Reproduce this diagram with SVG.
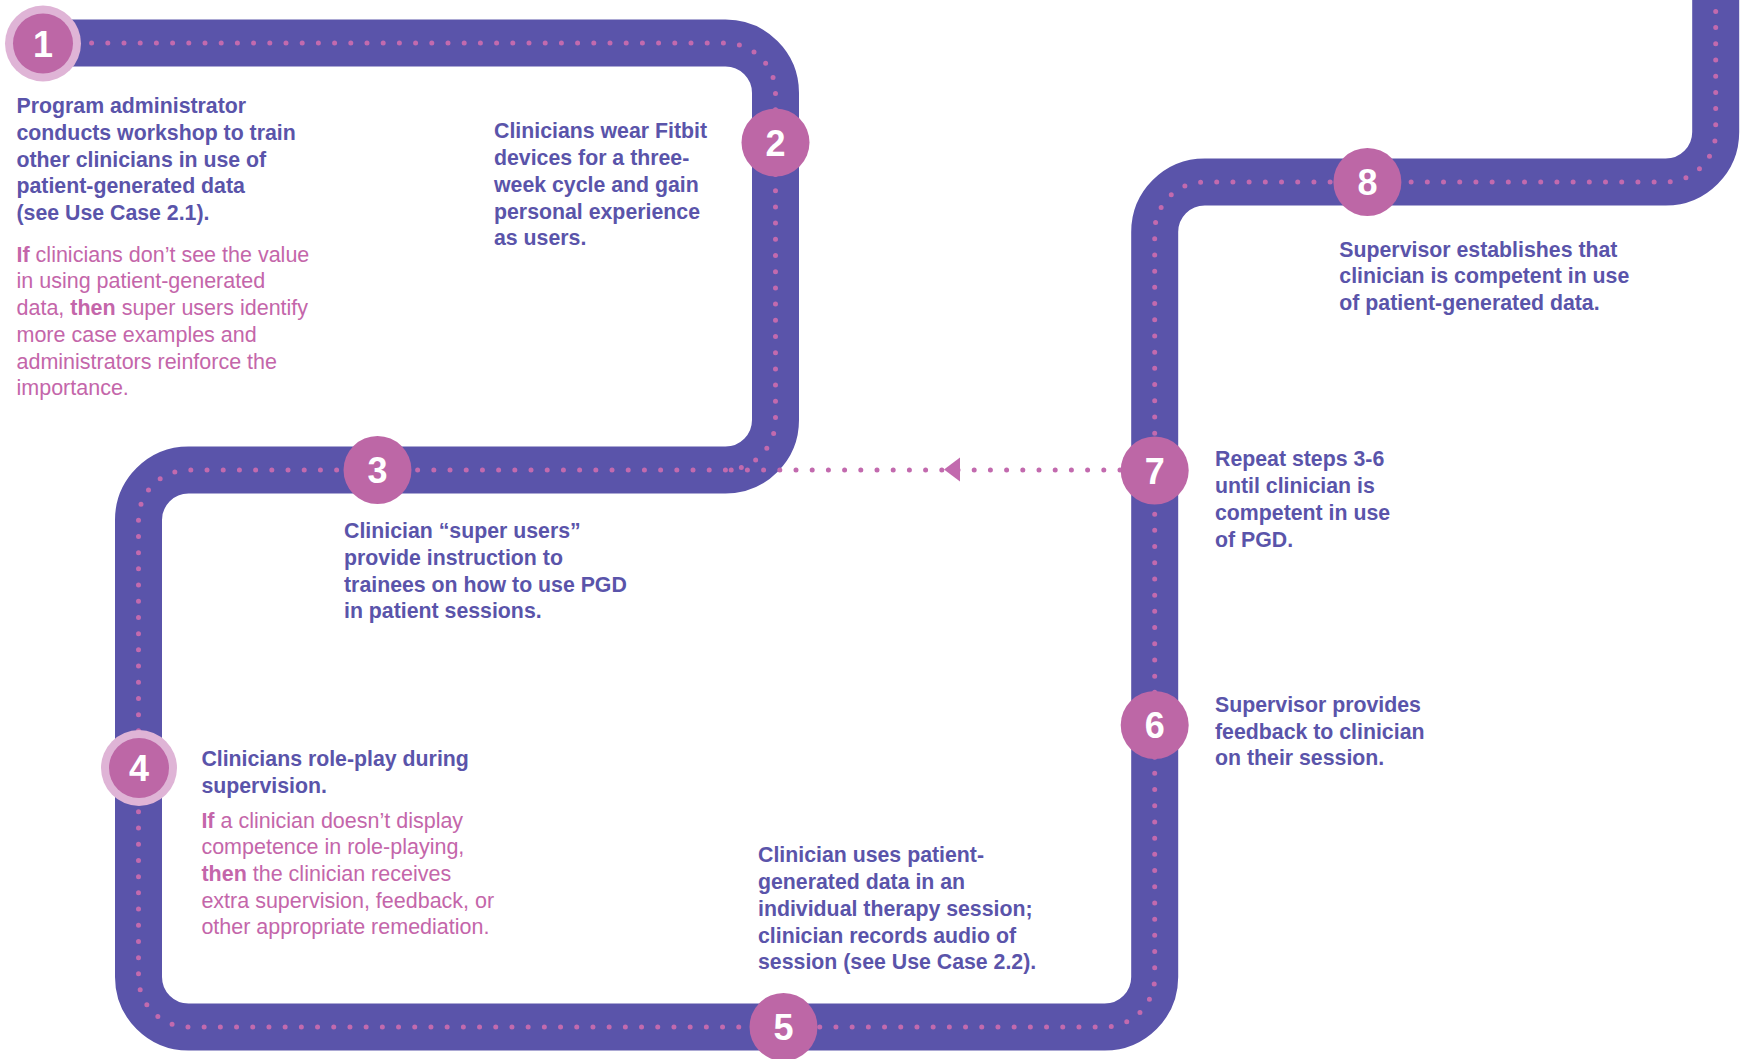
<svg xmlns="http://www.w3.org/2000/svg" width="1748" height="1059" viewBox="0 0 1748 1059">
<defs>
<style>
.band{fill:none;stroke:#5a54aa;stroke-width:47;}
.dots{fill:none;stroke:#c26aae;stroke-width:5;stroke-linecap:round;stroke-dasharray:0 16.2;}
.pin{fill:#bd67a6;}
.ring{fill:#dfb4d6;}
.num{font-family:"Liberation Sans",Arial,sans-serif;font-weight:700;font-size:36px;fill:#ffffff;text-anchor:middle;}
.txt{font-family:"Liberation Sans",Arial,sans-serif;font-weight:700;font-size:21.3px;fill:#5a54aa;}
.alt{font-family:"Liberation Sans",Arial,sans-serif;font-weight:400;font-size:21.5px;fill:#c466aa;}
.alt .b{font-weight:700;}
</style>
</defs>
<rect width="1748" height="1059" fill="#ffffff"/>
<g id="connectors">
<path class="band" d="M43 43 H725.5 A50 50 0 0 1 775.5 93 V420 A50 50 0 0 1 725.5 470 H188.5 A50 50 0 0 0 138.5 520 V977 A50 50 0 0 0 188.5 1027 H1104.7 A50 50 0 0 0 1154.7 977 V232 A50 50 0 0 1 1204.7 182 H1665.7 A50 50 0 0 0 1715.7 132 V-20"/>
<path class="dots" d="M43 43 H725.5 A50 50 0 0 1 775.5 93 V420 A50 50 0 0 1 725.5 470 H188.5 A50 50 0 0 0 138.5 520 V977 A50 50 0 0 0 188.5 1027 H1104.7 A50 50 0 0 0 1154.7 977 V232 A50 50 0 0 1 1204.7 182 H1665.7 A50 50 0 0 0 1715.7 132 V-20"/>
<path class="dots" d="M1120 470 H730"/>
<polygon points="944,469.5 960,457.5 960,481.5" fill="#c26aae"/>
</g>
<g id="step1">
<circle class="ring" cx="43" cy="43.5" r="38"/>
<circle class="pin" cx="43" cy="43.5" r="30"/>
<text class="num" x="43" y="57">1</text>
<text class="txt" x="16.5" y="113.3"><tspan x="16.5">Program administrator</tspan><tspan x="16.5" dy="26.7">conducts workshop to train</tspan><tspan x="16.5" dy="26.7">other clinicians in use of</tspan><tspan x="16.5" dy="26.7">patient-generated data</tspan><tspan x="16.5" dy="26.7">(see Use Case 2.1).</tspan></text>
<text class="alt" x="16.5" y="261.7"><tspan x="16.5"><tspan class="b">If</tspan> clinicians don’t see the value</tspan><tspan x="16.5" dy="26.7">in using patient-generated</tspan><tspan x="16.5" dy="26.7">data, <tspan class="b">then</tspan> super users identify</tspan><tspan x="16.5" dy="26.7">more case examples and</tspan><tspan x="16.5" dy="26.7">administrators reinforce the</tspan><tspan x="16.5" dy="26.7">importance.</tspan></text>
</g>
<g id="step2">
<circle class="pin" cx="775.5" cy="142.5" r="34"/>
<text class="num" x="775.5" y="155.5">2</text>
<text class="txt" x="494" y="138.4"><tspan x="494">Clinicians wear Fitbit</tspan><tspan x="494" dy="26.7">devices for a three-</tspan><tspan x="494" dy="26.7">week cycle and gain</tspan><tspan x="494" dy="26.7">personal experience</tspan><tspan x="494" dy="26.7">as users.</tspan></text>
</g>
<g id="step3">
<circle class="pin" cx="377.5" cy="470" r="34"/>
<text class="num" x="377.5" y="483">3</text>
<text class="txt" x="344" y="538.2"><tspan x="344">Clinician “super users”</tspan><tspan x="344" dy="26.7">provide instruction to</tspan><tspan x="344" dy="26.7">trainees on how to use PGD</tspan><tspan x="344" dy="26.7">in patient sessions.</tspan></text>
</g>
<g id="step4">
<circle class="ring" cx="139" cy="768" r="38"/>
<circle class="pin" cx="139" cy="768" r="30"/>
<text class="num" x="139" y="781">4</text>
<text class="txt" x="201.4" y="766.4"><tspan x="201.4">Clinicians role-play during</tspan><tspan x="201.4" dy="26.7">supervision.</tspan></text>
<text class="alt" x="201.4" y="827.5"><tspan x="201.4"><tspan class="b">If</tspan> a clinician doesn’t display</tspan><tspan x="201.4" dy="26.7">competence in role-playing,</tspan><tspan x="201.4" dy="26.7"><tspan class="b">then</tspan> the clinician receives</tspan><tspan x="201.4" dy="26.7">extra supervision, feedback, or</tspan><tspan x="201.4" dy="26.7">other appropriate remediation.</tspan></text>
</g>
<g id="step5">
<circle class="pin" cx="783.5" cy="1027" r="34"/>
<text class="num" x="783.5" y="1040">5</text>
<text class="txt" x="758" y="862.4"><tspan x="758">Clinician uses patient-</tspan><tspan x="758" dy="26.7">generated data in an</tspan><tspan x="758" dy="26.7">individual therapy session;</tspan><tspan x="758" dy="26.7">clinician records audio of</tspan><tspan x="758" dy="26.7">session (see Use Case 2.2).</tspan></text>
</g>
<g id="step6">
<circle class="pin" cx="1154.7" cy="725" r="34"/>
<text class="num" x="1154.7" y="738">6</text>
<text class="txt" x="1215" y="711.9"><tspan x="1215">Supervisor provides</tspan><tspan x="1215" dy="26.7">feedback to clinician</tspan><tspan x="1215" dy="26.7">on their session.</tspan></text>
</g>
<g id="step7">
<circle class="pin" cx="1154.7" cy="470.5" r="34"/>
<text class="num" x="1154.7" y="483.5">7</text>
<text class="txt" x="1215" y="466.4"><tspan x="1215">Repeat steps 3-6</tspan><tspan x="1215" dy="26.7">until clinician is</tspan><tspan x="1215" dy="26.7">competent in use</tspan><tspan x="1215" dy="26.7">of PGD.</tspan></text>
</g>
<g id="step8">
<circle class="pin" cx="1367.4" cy="182" r="34"/>
<text class="num" x="1367.4" y="195">8</text>
<text class="txt" x="1339.3" y="256.7"><tspan x="1339.3">Supervisor establishes that</tspan><tspan x="1339.3" dy="26.7">clinician is competent in use</tspan><tspan x="1339.3" dy="26.7">of patient-generated data.</tspan></text>
</g>
</svg>
